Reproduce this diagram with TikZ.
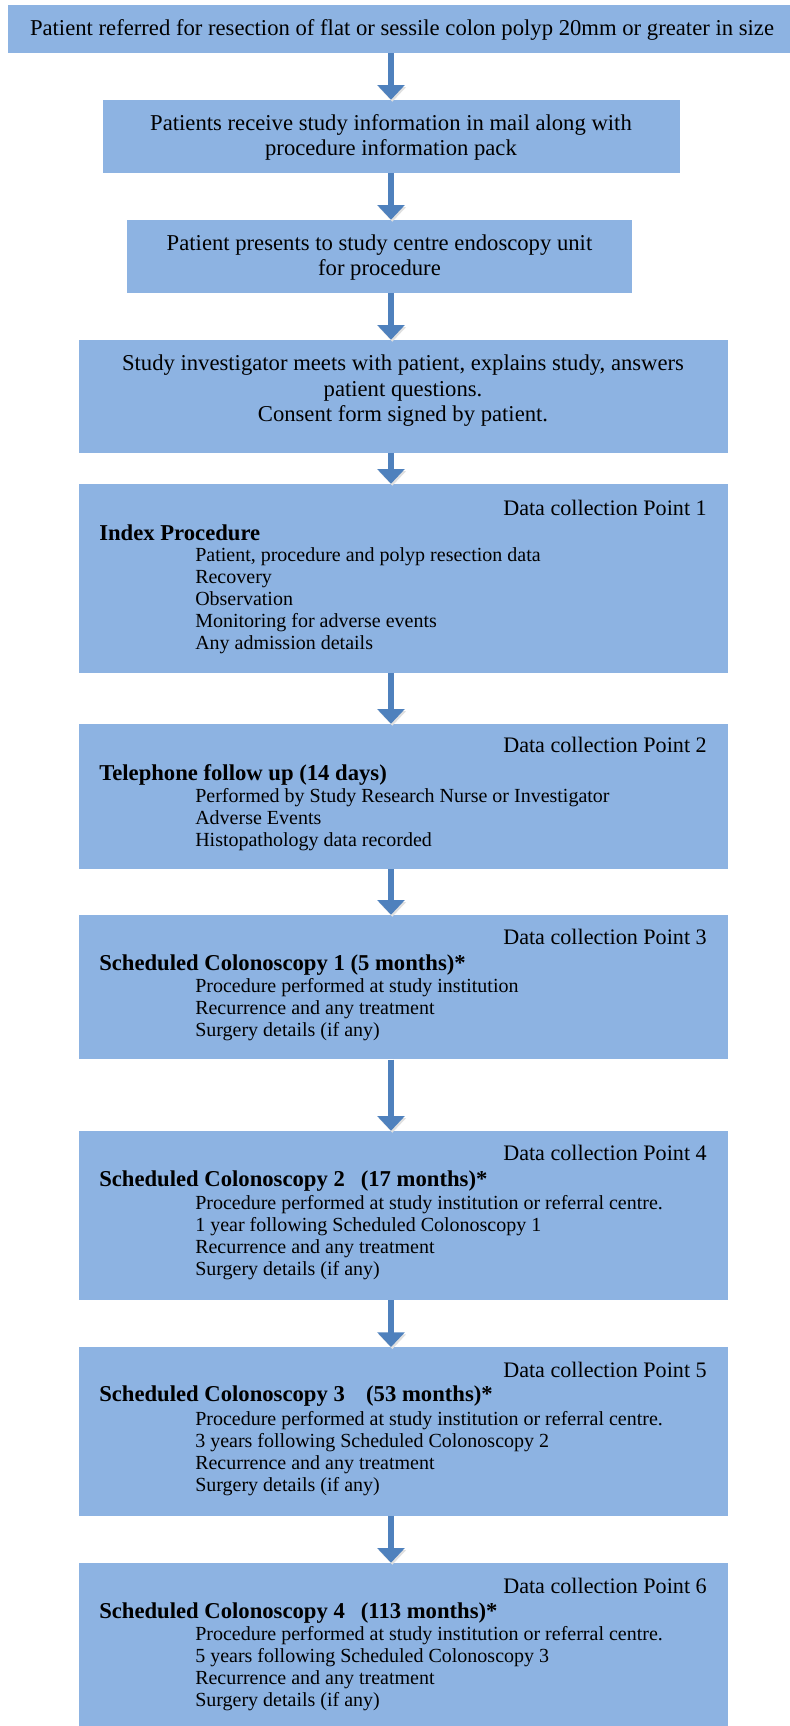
\documentclass[tikz,border=0pt]{standalone}
\usepackage{fontspec}
\setmainfont{Liberation Serif}
\usetikzlibrary{arrows.meta,fit}
\definecolor{boxblue}{RGB}{141,179,226}
\definecolor{arrowblue}{RGB}{79,129,189}

\begin{document}
\begin{tikzpicture}[x=0.75pt, y=-0.75pt,
    box/.style={fill=boxblue, draw=none, inner sep=0pt},
    txt/.style={inner sep=0pt, anchor=base, align=center, font=\fontsize{17}{19}\selectfont},
    head/.style={inner sep=0pt, anchor=base west, font=\fontsize{17}{18}\selectfont\bfseries},
    items/.style={inner sep=0pt, anchor=base west, align=left, font=\fontsize{15}{16.5}\selectfont},
    dcp/.style={inner sep=0pt, anchor=base east, font=\fontsize{16.6}{18}\selectfont},
    flow/.style={draw=arrowblue, line width=4.5pt, -{Triangle[width=20pt,length=11pt]},
        preaction={draw=black!12, transform canvas={shift={(1pt,-1.5pt)}}}}]
\useasboundingbox (0,0) rectangle (789,1726);

% boxes
\node[box, fit={(8,5) (797,53)}] (b1) {};
\node[box, fit={(103,100) (680,172.7)}] (b2) {};
\node[box, fit={(127,220) (632,292.7)}] (b3) {};
\node[box, fit={(79,340) (728,452.7)}] (b4) {};
\node[box, fit={(79,484) (728,672.7)}] (b5) {};
\node[box, fit={(79,724) (728,868.7)}] (b6) {};
\node[box, fit={(79,915) (728,1059.3)}] (b7) {};
\node[box, fit={(79,1131) (728,1300)}] (b8) {};
\node[box, fit={(79,1347.3) (728,1515.5)}] (b9) {};
\node[box, fit={(79,1563) (728,1740)}] (b10) {};

% first steps (anchored at the last line)
\node[txt] (t1) at (402,36) {Patient referred for resection of flat or sessile colon polyp 20mm or greater in size};
\node[txt] (t2) at (391,155.7) {Patients receive study information in mail along with\\procedure information pack};
\node[txt] (t3) at (379.5,276) {Patient presents to study centre endoscopy unit\\for procedure};
\node[txt] (t4) at (403,421.5) {Study investigator meets with patient, explains study, answers\\patient questions.\\Consent form signed by patient.};

% data collection points
\node[dcp] (d1) at (707,515) {Data collection Point 1};
\node[head] (h1) at (99,540) {Index Procedure};
\node[items] (i1) at (195,649.3) {Patient, procedure and polyp resection data\\Recovery\\Observation\\Monitoring for adverse events\\Any admission details};

\node[dcp] (d2) at (707,752.5) {Data collection Point 2};
\node[head] (h2) at (99,780) {Telephone follow up (14 days)};
\node[items] (i2) at (195,846) {Performed by Study Research Nurse or Investigator\\Adverse Events\\Histopathology data recorded};

\node[dcp] (d3) at (707,944) {Data collection Point 3};
\node[head] (h3) at (99,970) {Scheduled Colonoscopy 1 (5 months)*};
\node[items] (i3) at (195,1036.7) {Procedure performed at study institution\\Recurrence and any treatment\\Surgery details (if any)};

\node[dcp] (d4) at (707,1160) {Data collection Point 4};
\node[head] (h4) at (99,1186.7) {Scheduled Colonoscopy 2\hspace{12pt}(17 months)*};
\node[items] (i4) at (195,1275) {Procedure performed at study institution or referral centre.\\1 year following Scheduled Colonoscopy 1\\Recurrence and any treatment\\Surgery details (if any)};

\node[dcp] (d5) at (707,1377.4) {Data collection Point 5};
\node[head] (h5) at (99,1401.7) {Scheduled Colonoscopy 3\hspace{16pt}(53 months)*};
\node[items] (i5) at (195,1491) {Procedure performed at study institution or referral centre.\\3 years following Scheduled Colonoscopy 2\\Recurrence and any treatment\\Surgery details (if any)};

\node[dcp] (d6) at (707,1593.3) {Data collection Point 6};
\node[head] (h6) at (99,1618.3) {Scheduled Colonoscopy 4\hspace{12pt}(113 months)*};
\node[items] (i6) at (195,1706.7) {Procedure performed at study institution or referral centre.\\5 years following Scheduled Colonoscopy 3\\Recurrence and any treatment\\Surgery details (if any)};

% arrows
\coordinate (ax) at (391,0);
\foreach \a/\b in {b1/b2,b2/b3,b3/b4,b4/b5,b5/b6,b6/b7,b7/b8,b8/b9,b9/b10}
{
    \draw[flow] (\a.south -| ax) -- (\b.north -| ax);
}

\end{tikzpicture}
\end{document}
